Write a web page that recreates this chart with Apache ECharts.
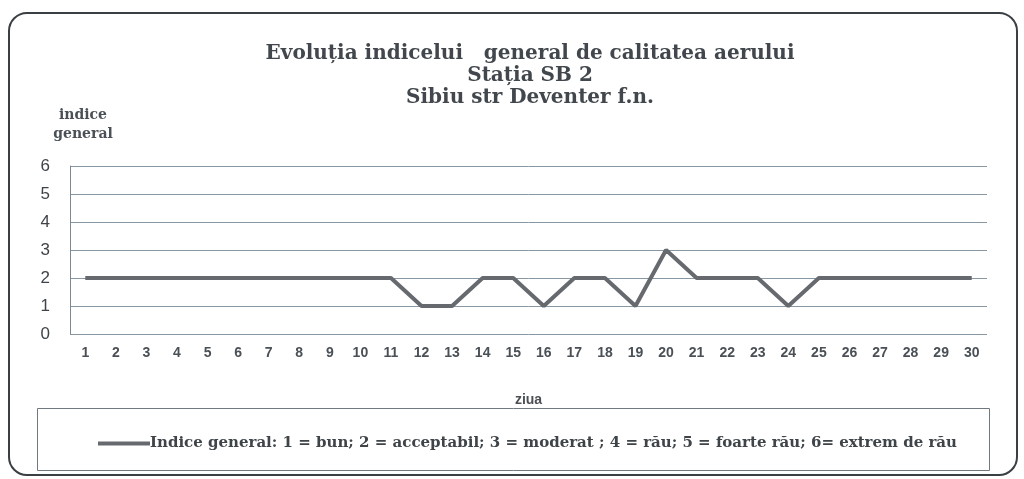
<!DOCTYPE html>
<html>
<head>
<meta charset="utf-8">
<script src="https://cdn.jsdelivr.net/npm/echarts@6/dist/echarts.min.js"></script>
<style>html,body{margin:0;padding:0;background:#fff;}#c{width:1024px;height:479px;}</style>
</head>
<body>
<div id="c"></div>
<script>
const days = ['1','2','3','4','5','6','7','8','9','10','11','12','13','14','15','16','17','18','19','20','21','22','23','24','25','26','27','28','29','30'];
const indiceGeneral = [2,2,2,2,2,2,2,2,2,2,2,1,1,2,2,1,2,2,1,3,2,2,2,1,2,2,2,2,2,2];
const yTicks = [0,1,2,3,4,5,6];
const seriesName = 'Indice general: 1 = bun; 2 = acceptabil; 3 = moderat ; 4 = rău; 5 = foarte rău; 6= extrem de rău';

const chart = echarts.init(document.getElementById('c'));
chart.setOption({
  backgroundColor: '#fff',
  animation: false,
  title: [{
    text: 'Evoluția indicelui   general de calitatea aerului\nStația SB 2\nSibiu str Deventer f.n.',
    left: 525, top: 38, textAlign: 'center',
    textStyle: {fontFamily: 'DejaVu Serif', fontWeight: 'bold', fontSize: 20, color: '#41474c', lineHeight: 22}
  }, {
    text: 'indice\ngeneral',
    left: 78, top: 101, textAlign: 'center',
    textStyle: {fontFamily: 'DejaVu Serif', fontWeight: 'bold', fontSize: 14, color: '#4a5055', lineHeight: 19}
  }],
  graphic: [{
    type: 'rect', shape: {x: 9, y: 13, width: 1008, height: 462, r: 18},
    style: {fill: 'none', stroke: '#3a3f44', lineWidth: 2}, silent: true
  }, {
    type: 'rect', shape: {x: 37.5, y: 408.5, width: 952, height: 62},
    style: {fill: 'none', stroke: '#707880', lineWidth: 1}, silent: true
  }],
  legend: {
    left: 93, top: 431,
    itemWidth: 52, itemHeight: 4, itemGap: 0,
    icon: 'rect',
    textStyle: {fontFamily: 'DejaVu Serif', fontWeight: 'bold', fontSize: 15, color: '#3e4448', padding: [0,0,0,-5]},
    data: [seriesName]
  },
  grid: {left: 70, right: 37, top: 166, bottom: 145},
  xAxis: {
    type: 'category', data: days, boundaryGap: true,
    name: 'ziua', nameLocation: 'middle', nameGap: 59,
    nameTextStyle: {fontFamily: 'Liberation Sans', fontWeight: 'bold', fontSize: 14, color: '#4a5055'},
    axisLine: {show: false}, axisTick: {show: false},
    axisLabel: {margin: 12, fontFamily: 'Liberation Sans', fontWeight: 'bold', fontSize: 14, color: '#4a5055', interval: 0}
  },
  yAxis: {
    type: 'value', min: 0, max: 6, interval: 1,
    axisLine: {show: true, lineStyle: {color: '#7d8a95', width: 1}},
    axisTick: {show: false},
    splitLine: {lineStyle: {color: '#8797a4', width: 1}},
    axisLabel: {margin: 20, fontFamily: 'Liberation Sans', fontSize: 17, color: '#3e4448',
      formatter: v => yTicks.includes(v) ? String(v) : ''}
  },
  series: [{
    name: seriesName, type: 'line', data: indiceGeneral,
    symbol: 'none', lineStyle: {color: '#666a6e', width: 4},
    itemStyle: {color: '#666a6e'}
  }]
});
</script>
</body>
</html>
